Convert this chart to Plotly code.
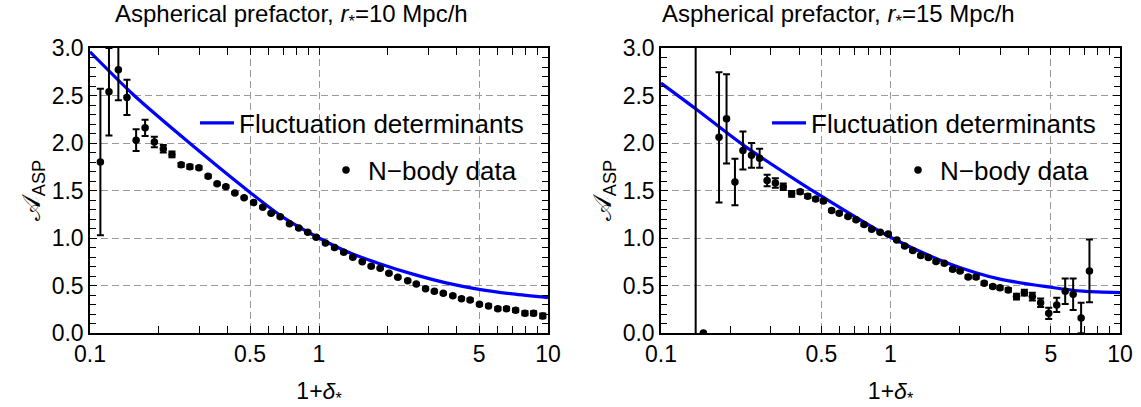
import plotly.graph_objects as go

# ---------------- data ----------------
# Left panel: r* = 10 Mpc/h
left_x = [0.111, 0.121, 0.133, 0.145, 0.159, 0.174, 0.191, 0.209, 0.228, 0.250,
          0.273, 0.299, 0.328, 0.359, 0.392, 0.429, 0.471, 0.518, 0.568, 0.618,
          0.677, 0.743, 0.816, 0.893, 0.972, 1.067, 1.169, 1.283, 1.405, 1.545,
          1.69, 1.85, 2.02, 2.21, 2.44, 2.66, 2.92, 3.19, 3.49, 3.84,
          4.19, 4.57, 5.02, 5.50, 6.04, 6.59, 7.22, 7.93, 8.65, 9.49]
left_y = [1.80, 2.54, 2.77, 2.48, 2.03, 2.16, 2.01, 1.94, 1.88, 1.77,
          1.75, 1.74, 1.65, 1.57, 1.54, 1.475, 1.425, 1.373, 1.325, 1.26,
          1.225, 1.149, 1.106, 1.061, 1.008, 0.948, 0.899, 0.850, 0.798, 0.751,
          0.703, 0.682, 0.629, 0.587, 0.551, 0.516, 0.467, 0.439, 0.418, 0.393,
          0.361, 0.348, 0.302, 0.285, 0.256, 0.256, 0.239, 0.208, 0.208, 0.179]
left_err = [0.77, 0.46, 0.32, 0.185, 0.115, 0.085, 0.055, 0.04, 0.03, 0.02,
            0.02, 0.015, 0.015, 0.012, 0.012, 0.01, 0.01, 0.01, 0.01, 0.01,
            0.01, 0.01, 0.01, 0.01, 0.01, 0.01, 0.01, 0.01, 0.01, 0.01,
            0.01, 0.01, 0.01, 0.01, 0.01, 0.01, 0.012, 0.012, 0.012, 0.012,
            0.014, 0.014, 0.015, 0.015, 0.016, 0.016, 0.018, 0.02, 0.02, 0.025]

# Fluctuation-determinant curve (left)
left_curve_x = [0.1, 0.156, 0.272, 0.5, 0.695, 1.0, 1.36, 1.84, 2.57, 3.59, 5.0, 7.0, 10.0]
left_curve_y = [2.96, 2.50, 2.00, 1.48, 1.22, 1.00, 0.845, 0.73, 0.62, 0.528, 0.46, 0.411, 0.372]

# Right panel: r* = 15 Mpc/h
right_x = [0.1416, 0.153, 0.179, 0.193, 0.210, 0.2275, 0.248, 0.269, 0.290, 0.315,
           0.341, 0.371, 0.404, 0.436, 0.472, 0.51, 0.554, 0.598, 0.653, 0.708,
           0.767, 0.828, 0.901, 0.977, 1.065, 1.153, 1.25, 1.355, 1.462, 1.579,
           1.716, 1.866, 2.01, 2.18, 2.36, 2.56, 2.79, 3.0, 3.26, 3.54,
           3.83, 4.15, 4.51, 4.89, 5.30, 5.77, 6.25, 6.77, 7.36]
right_y = [-0.6, 0.0, 2.06, 2.255, 1.59, 1.92, 1.87, 1.84, 1.605, 1.58,
           1.54, 1.465, 1.486, 1.44, 1.41, 1.39, 1.289, 1.261, 1.226, 1.191,
           1.141, 1.093, 1.061, 1.043, 0.98, 0.917, 0.868, 0.815, 0.794, 0.752,
           0.734, 0.671, 0.653, 0.59, 0.59, 0.524, 0.49, 0.477, 0.453, 0.383,
           0.425, 0.383, 0.319, 0.207, 0.295, 0.439, 0.408, 0.158, 0.653]
right_err = [4.0, 0.0, 0.685, 0.47, 0.245, 0.2, 0.13, 0.1, 0.06, 0.05,
             0.035, 0.03, 0.02, 0.02, 0.015, 0.015, 0.012, 0.012, 0.012, 0.012,
             0.012, 0.012, 0.012, 0.012, 0.012, 0.012, 0.012, 0.012, 0.012, 0.012,
             0.012, 0.012, 0.014, 0.014, 0.015, 0.015, 0.016, 0.018, 0.02, 0.03,
             0.03, 0.04, 0.045, 0.06, 0.075, 0.135, 0.165, 0.16, 0.33]

right_curve_x = [0.1, 0.1416, 0.2276, 0.404, 0.5, 1.0, 1.816, 3.0, 4.98, 6.9, 10.0]
right_curve_y = [2.63, 2.36, 1.98, 1.58, 1.44, 1.008, 0.727, 0.567, 0.482, 0.44, 0.425]

x_tickvals = [0.1, 0.5, 1, 5, 10]
x_ticktext = ["0.1", "0.5", "1", "5", "10"]
x_minor = [0.2, 0.3, 0.4, 0.6, 0.7, 0.8, 0.9, 2, 3, 4, 6, 7, 8, 9]
y_tickvals = [0, 0.5, 1.0, 1.5, 2.0, 2.5, 3.0]
y_ticktext = ["0.0", "0.5", "1.0", "1.5", "2.0", "2.5", "3.0"]

titles = ["Aspherical prefactor, <i>r</i><sub>*</sub>=10 Mpc/h",
          "Aspherical prefactor, <i>r</i><sub>*</sub>=15 Mpc/h"]
curve_name = "Fluctuation determinants"
data_name = "N\u2212body data"

FONT = "Liberation Sans, Arial, sans-serif"
W, H = 1141, 407

fig = go.Figure()

panels = [
    ("x", "y", left_x, left_y, left_err, left_curve_x, left_curve_y, "legend", "legend2"),
    ("x2", "y2", right_x, right_y, right_err, right_curve_x, right_curve_y, "legend3", "legend4"),
]
for xa, ya, dx, dy, de, cx, cy, lg1, lg2 in panels:
    fig.add_trace(go.Scatter(
        x=cx, y=cy, mode="lines", line=dict(color="#0000ff", width=3.2, shape="spline", smoothing=0.8),
        name=curve_name, xaxis=xa, yaxis=ya, legend=lg1, showlegend=True))
    fig.add_trace(go.Scatter(
        x=dx, y=dy, mode="markers", marker=dict(color="black", size=7.5),
        error_y=dict(type="data", array=de, color="black", thickness=2, width=3.5),
        name=data_name, xaxis=xa, yaxis=ya, legend=lg2, showlegend=True))

def xaxis_cfg(domain, anchor):
    return dict(
        type="log", range=[-1, 1], domain=domain, anchor=anchor, automargin=False,
        tickmode="array", tickvals=x_tickvals, ticktext=x_ticktext,
        ticks="inside", ticklen=7, tickwidth=1.3, tickcolor="black",
        showline=True, linecolor="black", linewidth=1.5, mirror="allticks",
        showgrid=True, gridcolor="#9a9a9a", gridwidth=1, griddash="7px,4px",
        zeroline=False,
        minor=dict(tickmode="array", tickvals=x_minor, ticks="inside", ticklen=7,
                   tickwidth=1.3, tickcolor="black", showgrid=False),
        tickfont=dict(family=FONT, size=23, color="black"),
        title=dict(text="1+<i>\u03b4</i><sub>*</sub>", font=dict(family=FONT, size=23, color="black"),
                   standoff=17),
    )

def yaxis_cfg(anchor):
    return dict(
        range=[0, 3], domain=[1 - 333 / H, 1 - 48 / H], anchor=anchor, automargin=False,
        tickmode="array", tickvals=y_tickvals, ticktext=y_ticktext,
        ticks="inside", ticklen=7, tickwidth=1.3, tickcolor="black",
        showline=True, linecolor="black", linewidth=1.5, mirror="allticks",
        showgrid=True, gridcolor="#9a9a9a", gridwidth=1, griddash="7px,4px",
        zeroline=False,
        minor=dict(dtick=0.1, ticks="inside", ticklen=6, tickwidth=1.3,
                   tickcolor="black", showgrid=False),
        tickfont=dict(family=FONT, size=23, color="black"),
        title=dict(text="\U0001D49C<sub>ASP</sub>", font=dict(family=FONT, size=26, color="black"),
                   standoff=4),
    )

legend_common = dict(bgcolor="rgba(0,0,0,0)", borderwidth=0, xanchor="left", yanchor="middle",
                     font=dict(family=FONT, size=26, color="black"), itemwidth=34)

fig.update_layout(
    width=W, height=H,
    margin=dict(l=0, r=0, t=0, b=0, autoexpand=False),
    paper_bgcolor="white", plot_bgcolor="white",
    font=dict(family=FONT, color="black"),
    xaxis=xaxis_cfg([90 / W, 548 / W], "y"),
    yaxis=yaxis_cfg("x"),
    xaxis2=xaxis_cfg([661 / W, 1120 / W], "y2"),
    yaxis2=yaxis_cfg("x2"),
    legend=dict(x=195 / W, y=1 - 123 / H, **legend_common),
    legend2=dict(x=324 / W, y=1 - 170 / H, **legend_common),
    legend3=dict(x=767 / W, y=1 - 123 / H, **legend_common),
    legend4=dict(x=896 / W, y=1 - 170 / H, **legend_common),
    showlegend=True,
)

for i, t in enumerate(titles):
    fig.add_annotation(text=t, xref="paper", yref="paper", x=[291 / W, 838 / W][i], y=1 - 16 / H,
                       xanchor="center", yanchor="middle", showarrow=False,
                       font=dict(family=FONT, size=24, color="black"))

fig.write_html("out.html")
